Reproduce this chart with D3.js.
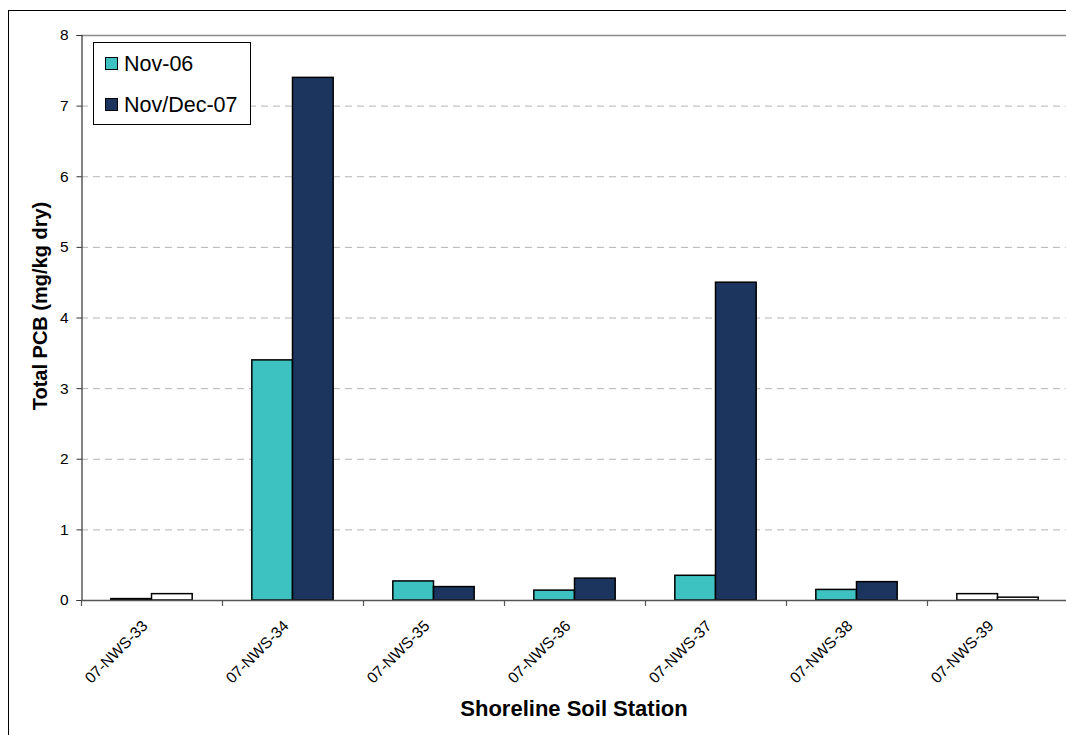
<!DOCTYPE html>
<html><head><meta charset="utf-8">
<script src="https://cdn.jsdelivr.net/npm/d3@7"></script>
<style>body{margin:0;background:#fff;overflow:hidden;}svg{display:block;font-family:Arial,"Liberation Sans",sans-serif;}</style>
</head><body>
<svg id="c" width="1066" height="735"></svg>
<script>
const categories = ["07-NWS-33","07-NWS-34","07-NWS-35","07-NWS-36","07-NWS-37","07-NWS-38","07-NWS-39"];
const seriesNames = ["Nov-06","Nov/Dec-07"];
const nov06 = [0.02, 3.4, 0.27, 0.14, 0.35, 0.15, 0.09];
const novDec07 = [0.09, 7.4, 0.19, 0.31, 4.5, 0.26, 0.04];
const nov06Detected = [false, true, true, true, true, true, false];
const novDec07Detected = [false, true, true, true, true, true, false];
const yTicks = [0,1,2,3,4,5,6,7,8];
const xTitle = "Shoreline Soil Station";
const yTitle = "Total PCB (mg/kg dry)";

(function(){
const colors = ["#3DC1C1", "#1B355F"];
const svg = d3.select("#c");

// outer chart border
svg.append("rect").attr("x",8.5).attr("y",10.5).attr("width",1200).attr("height",900)
  .attr("fill","#fff").attr("stroke","#000").attr("stroke-width",1);

const pLeft = 81, pTop = 35, pBottom = 600;
const step = 141;
const pRight = pLeft + step * categories.length;

const y = d3.scaleLinear().domain([0,8]).range([pBottom, pTop]);
const x0 = d3.scaleBand().domain(categories).range([pLeft, pRight]).paddingInner(0.423).paddingOuter(0.2115);
const x1 = d3.scaleBand().domain(seriesNames).range([0, x0.bandwidth()]);

// gridlines
svg.append("g").selectAll("line").data(yTicks.filter(d => d > 0 && d < 8)).join("line")
  .attr("x1", pLeft).attr("x2", pRight).attr("y1", d => y(d)+0.5).attr("y2", d => y(d)+0.5)
  .attr("stroke","#b4b4b4").attr("stroke-width",1).attr("stroke-dasharray","7,5");
// plot top border
svg.append("line").attr("x1",pLeft).attr("x2",pRight).attr("y1",y(8)+0.5).attr("y2",y(8)+0.5)
  .attr("stroke","#8c8c8c").attr("stroke-width",1.5);

// bars
const series = [
  {name: seriesNames[0], values: nov06, detected: nov06Detected, color: colors[0]},
  {name: seriesNames[1], values: novDec07, detected: novDec07Detected, color: colors[1]}
];
series.forEach(s => {
  svg.append("g").selectAll("rect").data(categories).join("rect")
    .attr("x", (c) => x0(c) + x1(s.name))
    .attr("width", x1.bandwidth())
    .attr("y", (c,i) => y(s.values[i]))
    .attr("height", (c,i) => y(0) - y(s.values[i]))
    .attr("fill", (c,i) => s.detected[i] ? s.color : "#fff")
    .attr("stroke", "#000").attr("stroke-width", 1.5);
});

// y axis
const yAxis = d3.axisLeft(y).tickValues(yTicks).tickSize(5).tickPadding(8).tickFormat(d3.format("d"));
const gy = svg.append("g").attr("transform", `translate(${pLeft+0.5},0)`).call(yAxis);
gy.select(".domain").attr("stroke","#333").attr("stroke-width",1.2);
gy.selectAll(".tick line").attr("stroke","#333");
gy.selectAll("text").attr("font-size",15.5).attr("fill","#000").attr("font-family","Arial, 'Liberation Sans', sans-serif");

// x axis line
svg.append("line").attr("x1",pLeft).attr("x2",pRight).attr("y1",y(0)+0.5).attr("y2",y(0)+0.5)
  .attr("stroke","#555").attr("stroke-width",1.5);
// x ticks at category boundaries
svg.append("g").selectAll("line").data(d3.range(categories.length+1)).join("line")
  .attr("x1", i => pLeft + i*x0.step() + 0.5).attr("x2", i => pLeft + i*x0.step() + 0.5)
  .attr("y1", y(0)).attr("y2", y(0)+6).attr("stroke","#555").attr("stroke-width",1.2);
// x labels
svg.append("g").selectAll("text").data(categories).join("text")
  .attr("transform", c => `translate(${x0(c) + x0.bandwidth()/2 - 3},${y(0)+27}) rotate(-45)`)
  .attr("text-anchor","end").attr("font-size",15.5).attr("fill","#000").text(c => c);

// titles
svg.append("text").attr("x", 574).attr("y", 716).attr("text-anchor","middle")
  .attr("font-size",22).attr("font-weight","bold").text(xTitle);
svg.append("text").attr("transform","translate(47,306) rotate(-90)").attr("text-anchor","middle")
  .attr("font-size",20).attr("font-weight","bold").text(yTitle);

// legend
const lg = svg.append("g");
lg.append("rect").attr("x",93.5).attr("y",42.5).attr("width",157).attr("height",82)
  .attr("fill","#fff").attr("stroke","#000").attr("stroke-width",1);
series.forEach((s,i) => {
  lg.append("rect").attr("x",105.5).attr("y",57.5 + i*41).attr("width",12).attr("height",12)
    .attr("fill", s.color).attr("stroke","#000").attr("stroke-width",1);
  lg.append("text").attr("x",124).attr("y",71 + i*41).attr("font-size",21.5).attr("fill","#000").text(s.name);
});
})();
</script>
</body></html>
